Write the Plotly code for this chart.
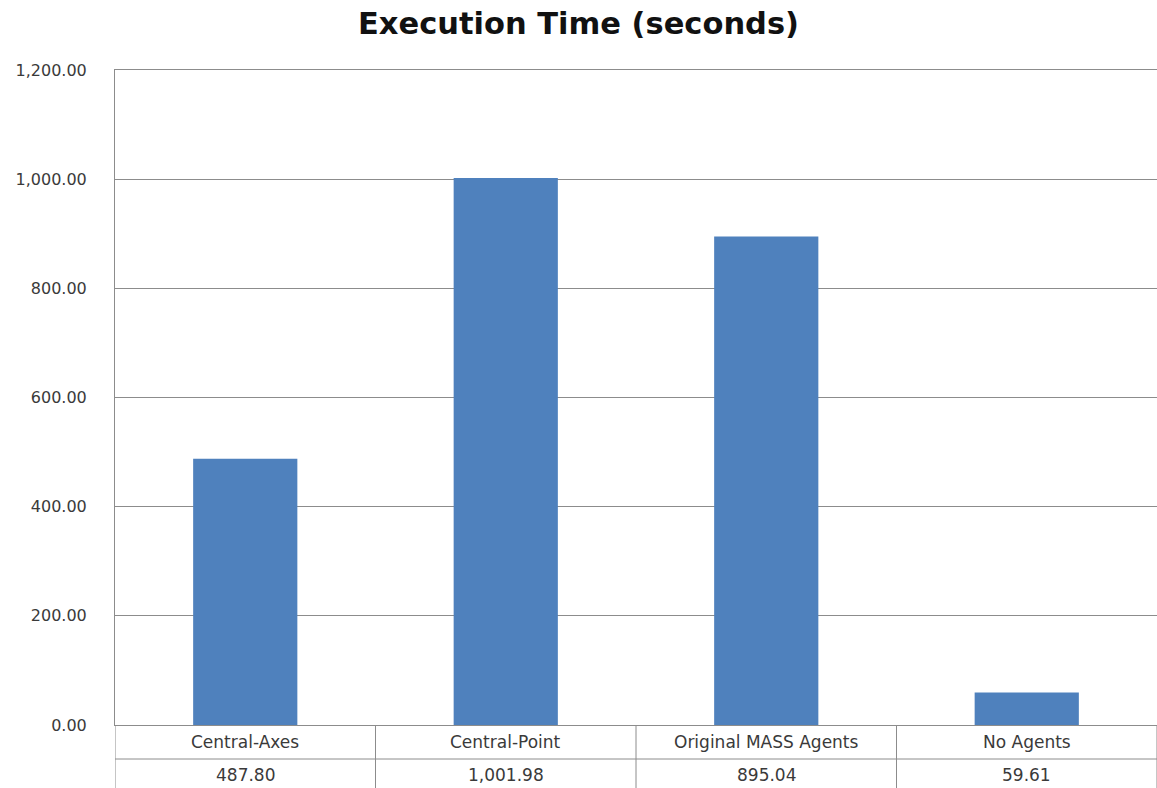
import plotly.graph_objects as go

# Execution time per configuration (seconds)
categories = ["Central-Axes", "Central-Point", "Original MASS Agents", "No Agents"]
exec_times = [487.80, 1001.98, 895.04, 59.61]
y_ticks = [0, 200, 400, 600, 800, 1000, 1200]

BAR_COLOR = "#4F81BD"
GRID = "#8c8c8c"
TEXT = "#3a3a3a"
FONT = "DejaVu Sans"

W, H = 1157, 788
M_L, M_R, M_T, M_B = 115, 0, 70, 63
plot_h = H - M_T - M_B
row1_bottom = 34 / plot_h     # first table row (category names)
row1_mid = 17 / plot_h
row2_mid = 50 / plot_h        # second table row (values)
table_bottom = 63 / plot_h

x_idx = list(range(len(categories)))

fig = go.Figure(
    go.Bar(
        x=x_idx,
        y=exec_times,
        width=0.4,
        marker=dict(color=BAR_COLOR, line=dict(width=0)),
        hoverinfo="skip",
    )
)

# Data table underneath the plot: grid lines
shapes = []
n = len(categories)
for i in range(n + 1):
    shapes.append(dict(type="line", xref="x", yref="paper",
                       x0=i - 0.5, x1=i - 0.5, y0=0, y1=-table_bottom,
                       line=dict(color=GRID, width=1)))
shapes.append(dict(type="line", xref="x", yref="paper",
                   x0=-0.5, x1=n - 0.5, y0=-row1_bottom, y1=-row1_bottom,
                   line=dict(color=GRID, width=1)))

# Data table text: category names and formatted values
annotations = []
for i, (cat, val) in enumerate(zip(categories, exec_times)):
    annotations.append(dict(x=i, y=-row1_mid, xref="x", yref="paper",
                            text=cat, showarrow=False,
                            font=dict(family=FONT, size=17, color=TEXT),
                            xanchor="center", yanchor="middle"))
    annotations.append(dict(x=i, y=-row2_mid, xref="x", yref="paper",
                            text=f"{val:,.2f}", showarrow=False,
                            font=dict(family=FONT, size=17, color=TEXT),
                            xanchor="center", yanchor="middle"))

fig.update_layout(
    width=W, height=H,
    margin=dict(l=M_L, r=M_R, t=M_T, b=M_B, pad=0),
    paper_bgcolor="white", plot_bgcolor="white",
    title=dict(text="<b>Execution Time (seconds)</b>", x=0.5, xanchor="center",
               xref="container", y=1 - 23.5 / H, yanchor="middle",
               font=dict(family=FONT, size=30.5, color="#111111")),
    showlegend=False,
    shapes=shapes,
    annotations=annotations,
    xaxis=dict(range=[-0.5, n - 0.5], showticklabels=False, showgrid=False,
               zeroline=False, showline=True, mirror=True,
               linecolor=GRID, linewidth=1, ticks="", fixedrange=True),
    yaxis=dict(range=[0, 1200], tickvals=y_ticks, tickformat=",.2f",
               showgrid=True, gridcolor=GRID, gridwidth=1,
               zeroline=False, showline=True, linecolor=GRID, linewidth=1,
               ticks="", ticklabelstandoff=24,
               tickfont=dict(family=FONT, size=16, color=TEXT),
               fixedrange=True),
)

fig.write_html("out.html")
